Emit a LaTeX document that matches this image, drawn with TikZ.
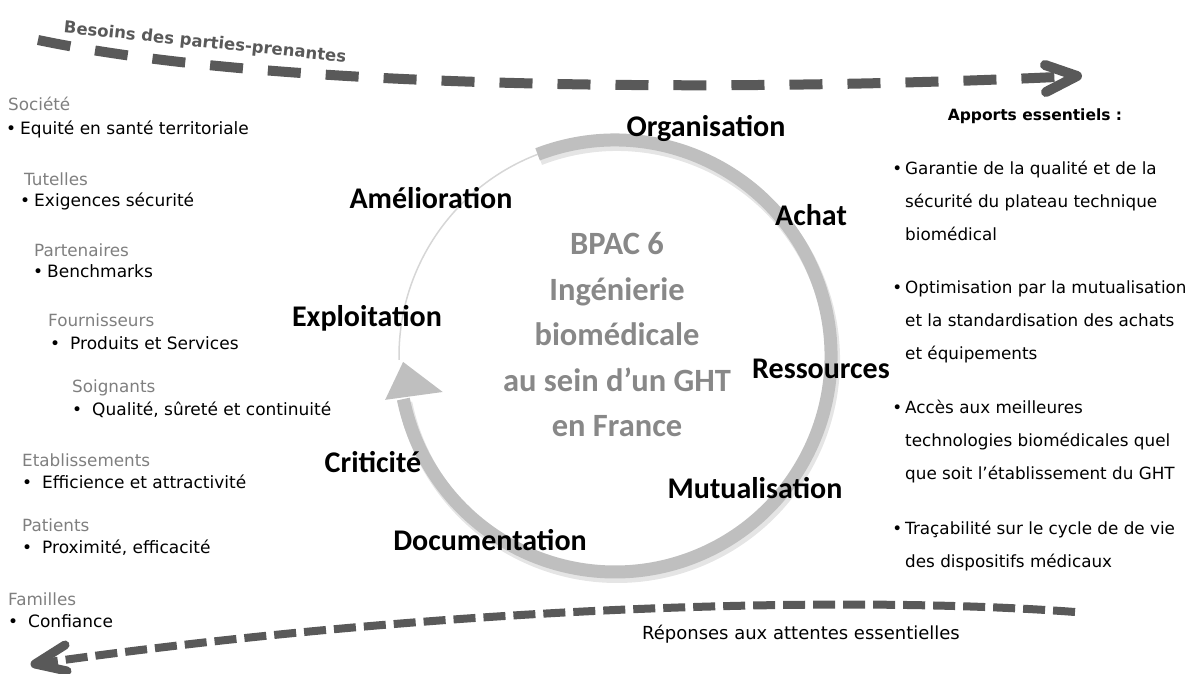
\documentclass[tikz,border=0pt]{standalone}
\usepackage{fontspec}
\setmainfont{DejaVu Sans}
\newfontfamily\calfont{Carlito}
\usetikzlibrary{calc}
\definecolor{dgray}{HTML}{595959}
\definecolor{mgray}{HTML}{7F7F7F}
\definecolor{cgray}{HTML}{888888}
\definecolor{agray}{HTML}{BFBFBF}
\definecolor{lgray}{HTML}{D6D6D6}
\tikzset{
  lab/.style={font=\calfont\bfseries\fontsize{30}{34}\selectfont, text=black, inner sep=0pt},
  head/.style={font=\fontsize{16.8}{19}\selectfont, text=mgray, anchor=west, inner sep=0pt},
  itm/.style={font=\fontsize{17}{19}\selectfont, text=black, anchor=west, inner sep=0pt},
  rpar/.style={font=\fontsize{16.8}{33}\selectfont, text=black, anchor=west, align=left, inner sep=0pt},
  topdash/.style={draw=dgray, line width=10pt, dash pattern=on 33pt off 25pt},
  botdash/.style={draw=dgray, line width=8pt, dash pattern=on 22pt off 8pt},
  chev/.style={draw=dgray, line width=10pt, line cap=round, line join=round},
  chevb/.style={draw=dgray, line width=9pt, line cap=round, line join=round},
}
\begin{document}
\begin{tikzpicture}[x=1pt,y=1pt]
\useasboundingbox (0,0) rectangle (1196,673);

% ---- circular cycle ----
\coordinate (c) at (615,317);
\draw[line width=14pt, black!10] ($(c)+(111:216)+(2,-4)$) arc[start angle=111, end angle=-168.5, radius=216];
\draw[line width=1.5pt, lgray] ($(c)+(111:216)$) arc[start angle=111, end angle=181, radius=216];
\draw[line width=13pt, agray] ($(c)+(111:216)$) arc[start angle=111, end angle=-168.5, radius=216];
\fill[agray] ($(c)+(190.8:234)$) -- ($(c)+(181.6:212)$) -- ($(c)+(191.8:176)$) -- cycle;

\node[font=\calfont\bfseries\fontsize{32.5}{45.5}\selectfont, text=cgray, align=center, inner sep=0pt] (center) at (617,673-335)
  {BPAC 6\\Ingénierie\\biomédicale\\au sein d’un GHT\\en France};

\node[lab] (org) at (706,673-128) {Organisation};
\node[lab] (ame) at (431,673-198) {Amélioration};
\node[lab] (ach) at (811,673-215) {Achat};
\node[lab] (exp) at (367,673-318) {Exploitation};
\node[lab] (res) at (821,673-369) {Ressources};
\node[lab] (cri) at (373,673-462) {Criticité};
\node[lab] (mut) at (755,673-488) {Mutualisation};
\node[lab] (doc) at (490,673-540) {Documentation};

% ---- top dashed arrow ----
\coordinate (t1) at (38,673-40);
\coordinate (t2) at (1077,673-76);
\draw[topdash] (t1) .. controls (300,673-95) and (800,673-90) .. (t2);
\draw[chev] ($(t2)+(-32,11)$) -- (t2) -- ($(t2)+(-31,-16)$);
\node[font=\bfseries\fontsize{16.5}{19}\selectfont, text=dgray, rotate=-6, inner sep=0pt] (bes) at (205,673-43) {Besoins des parties-prenantes};

% ---- bottom dashed arrow ----
\coordinate (b1) at (1075,673-612);
\coordinate (b2) at (35,673-664);
\draw[botdash] (b1) .. controls (850,673-595) and (450,673-605) .. (b2);
\draw[chevb] ($(b2)+(30,19)$) -- (b2) -- ($(b2)+(32,-7)$);
\node[font=\fontsize{18}{20}\selectfont, inner sep=0pt] (rep) at (801,673-634) {Réponses aux attentes essentielles};

% ---- left column ----
\node[head] (h1) at (8,673-104) {Société};
\node[itm]  (i1) at (6,673-129) {•\hspace{4pt}Equité en santé territoriale};
\node[head] (h2) at (24,673-179) {Tutelles};
\node[itm]  (i2) at (20,673-201) {•\hspace{4pt}Exigences sécurité};
\node[head] (h3) at (34,673-250) {Partenaires};
\node[itm]  (i3) at (33,673-271) {•\hspace{4pt}Benchmarks};
\node[head] (h4) at (48,673-320) {Fournisseurs};
\node[itm]  (i4) at (50,673-343) {•\hspace{10pt}Produits et Services};
\node[head] (h5) at (72,673-388) {Soignants};
\node[itm]  (i5) at (72,673-410) {•\hspace{10pt}Qualité, sûreté et continuité};
\node[head] (h6) at (22,673-460) {Etablissements};
\node[itm]  (i6) at (22,673-482) {•\hspace{10pt}Efficience et attractivité};
\node[head] (h7) at (22,673-525) {Patients};
\node[itm]  (i7) at (22,673-548) {•\hspace{10pt}Proximité, efficacité};
\node[head] (h8) at (8,673-599) {Familles};
\node[itm]  (i8) at (8,673-621) {•\hspace{10pt}Confiance};

% ---- right column ----
\node[font=\bfseries\fontsize{15.5}{18}\selectfont, inner sep=0pt] (app) at (1035,673-116) {Apports essentiels :};
\node[rpar] (r1) at (905,673-201) {\llap{•\hspace{3pt}}Garantie de la qualité et de la\\sécurité du plateau technique\\biomédical};
\node[rpar] (r2) at (905,673-322) {\llap{•\hspace{3pt}}Optimisation par la mutualisation\\et la standardisation des achats\\et équipements};
\node[rpar] (r3) at (905,673-442) {\llap{•\hspace{3pt}}Accès aux meilleures\\technologies biomédicales quel\\que soit l’établissement du GHT};
\node[rpar] (r4) at (905,673-546) {\llap{•\hspace{3pt}}Traçabilité sur le cycle de de vie\\des dispositifs médicaux};
\end{tikzpicture}
\end{document}
